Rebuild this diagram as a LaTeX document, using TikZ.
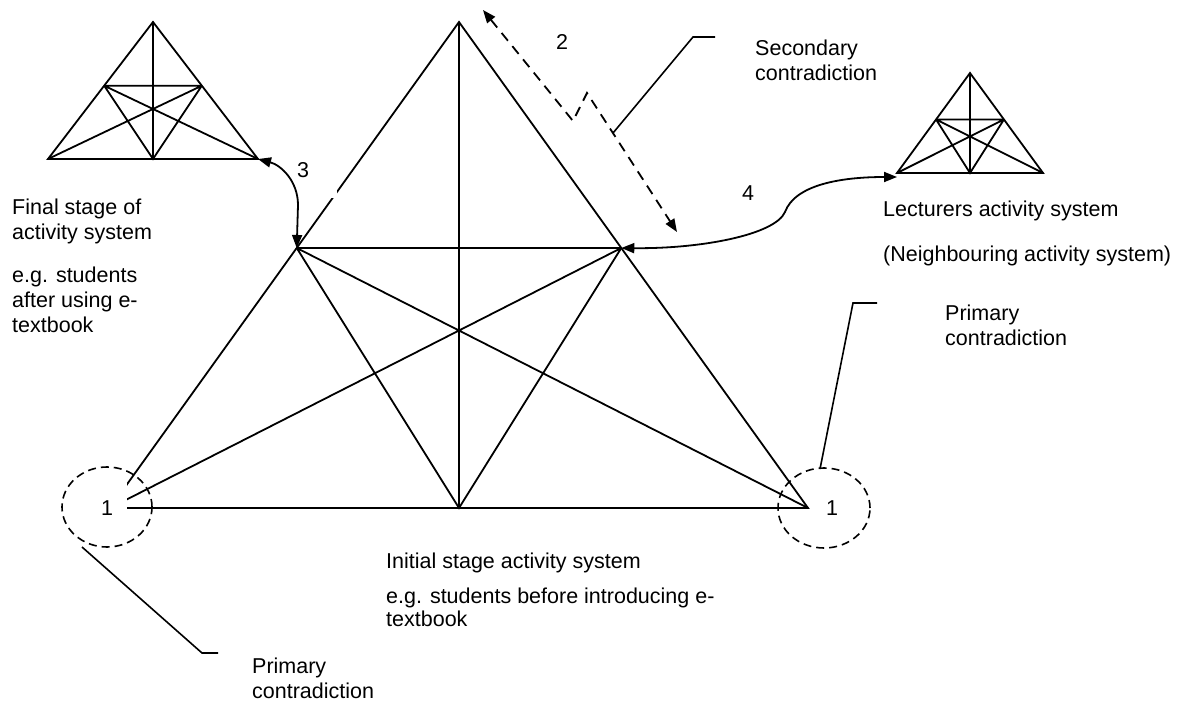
\documentclass[tikz,border=0pt]{standalone}
\usepackage{fontspec}
\setmainfont{Liberation Sans}
\usetikzlibrary{arrows.meta,calc}

\tikzset{
  tri/.style={line width=1.8pt, line join=miter},
  conn/.style={line width=1.8pt, {Triangle[length=13pt,width=10pt]}-{Triangle[length=13pt,width=10pt]}},
  dconn/.style={conn, dash pattern=on 10pt off 7pt},
  callout/.style={line width=1.6pt},
  ring/.style={line width=1.6pt, dash pattern=on 8pt off 5pt},
  lbl/.style={font=\fontsize{21.5}{25}\selectfont, inner sep=0pt},
  % multi-line blocks are placed by the baseline of their last line
  txt/.style={lbl, anchor=base west, align=left},
  mask/.style={lbl, fill=white},
}

% activity-system triangle: name, apex x, apex y, half base width, height
\newcommand\activitytri[5]{%
  \coordinate (#1A) at (#2,#3);
  \coordinate (#1BL) at (#2-#4,#3+#5);
  \coordinate (#1BR) at (#2+#4,#3+#5);
  \coordinate (#1BM) at (#2,#3+#5);
  \coordinate (#1L) at ($(#1A)!0.465!(#1BL)$);
  \coordinate (#1R) at ($(#1A)!0.465!(#1BR)$);
  \draw[tri] (#1A) -- (#1BL) -- (#1BR) -- cycle;
  \draw[tri] (#1A) -- (#1BM) (#1L) -- (#1R) (#1L) -- (#1BM) -- (#1R)
             (#1L) -- (#1BR) (#1R) -- (#1BL);
}

\begin{document}
\begin{tikzpicture}[x=1pt,y=-1pt]
\useasboundingbox (0,0) rectangle (1187,706);

% the three activity systems
\activitytri{b}{459}{22}{349}{486}
\activitytri{l}{153}{22}{105}{137}
\activitytri{r}{970}{73}{73}{100}

% labels whose boxes sit over the lines
\node[mask, minimum width=68pt, minimum height=56pt] (n3) at (303,170) {3};
\node[mask, minimum width=40pt, minimum height=60pt] (p1l) at (107,508) {1};
\node[mask, minimum width=40pt, minimum height=60pt] (p1r) at (832,508) {1};

% primary contradictions
\draw[ring] (107,507) ellipse [x radius=45pt, y radius=40pt];
\draw[ring] (824,508) ellipse [x radius=46pt, y radius=40pt];

% 2: secondary contradiction (dashed zig-zag)
\coordinate (s0) at (483,10);
\coordinate (s1) at (573,121);
\coordinate (s2) at (587,93);
\coordinate (s3) at (677,232);
\draw[dconn] (s0) -- (s1) -- (s2) -- (s3);
\node[lbl] (n2) at (562,42) {2};

% 3: towards the final stage
\draw[conn] (lBR) to[out=-15,in=90] (298,205) -- (bL);

% 4: neighbouring activity system
\draw[conn] (bR) .. controls (700,249) and (775,235) .. (785,212)
                 .. controls (795,185) and (840,177) .. ([yshift=-4pt]rBL);
\node[lbl] (n4) at (748,193) {4};

% callouts
\coordinate (cs0) at (613,133);
\coordinate (cs1) at (693,37);
\coordinate (cs2) at (715,37);
\draw[callout] (cs0) -- (cs1) -- (cs2);
\coordinate (cr0) at (820,469);
\coordinate (cr1) at (853,303);
\coordinate (cr2) at (877,303);
\draw[callout] (cr0) -- (cr1) -- (cr2);
\coordinate (cl0) at (82,547);
\coordinate (cl1) at (202,653);
\coordinate (cl2) at (218,653);
\draw[callout] (cl0) -- (cl1) -- (cl2);

% texts
\node[txt] (tsec) at (755,81) {Secondary\\contradiction};
\node[txt] (tfin) at (12,332) {Final stage of\\activity system\\[18pt]e.g. students\\after using e-\\textbook};
\node[txt] (tlec) at (883,261) {Lecturers activity system\\[20pt](Neighbouring activity system)};
\node[txt] (tpr) at (945,345) {Primary\\contradiction};
\node[txt] (tini) at (386,626) {Initial stage activity system\\[10pt]e.g. students before introducing e-\\[-2pt]textbook};
\node[txt] (tpl) at (252,698) {Primary\\contradiction};
\end{tikzpicture}
\end{document}
